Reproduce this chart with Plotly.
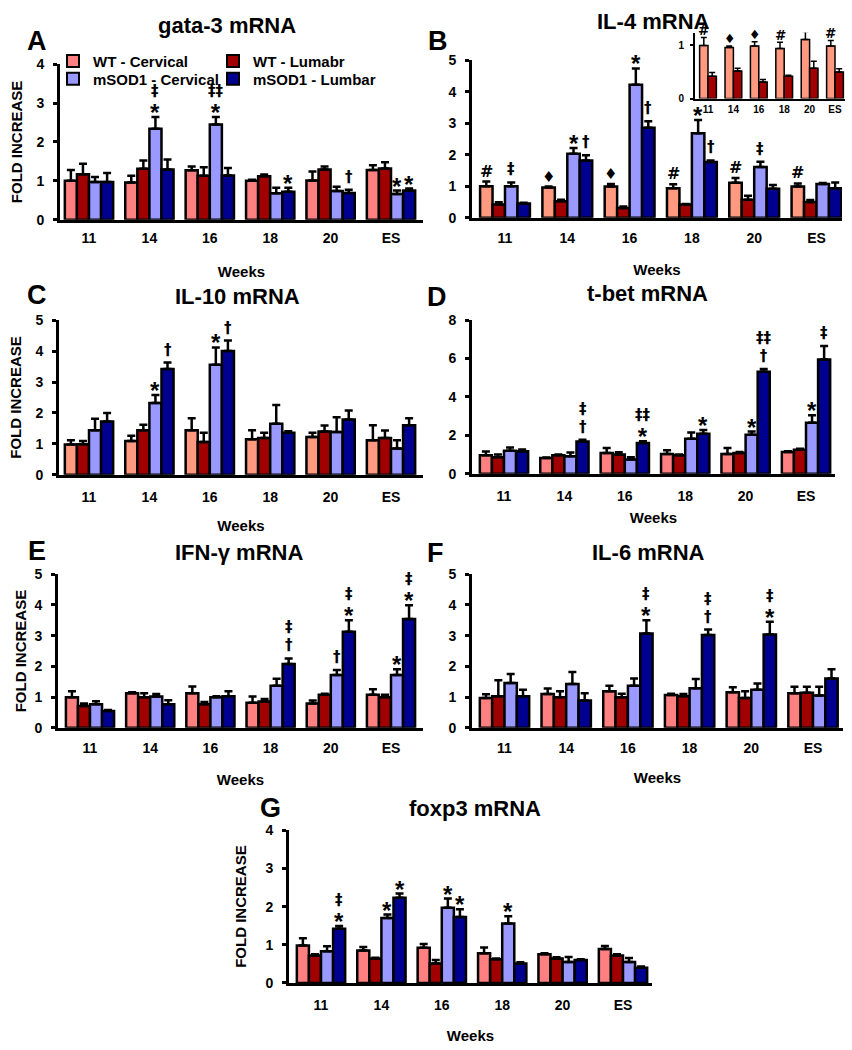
import plotly.graph_objects as go

# ---------------- data ----------------
weeks = ["11", "14", "16", "18", "20", "ES"]
series_names = ["WT - Cervical", "WT - Lumabr", "mSOD1 - Cervical", "mSOD1 - Lumbar"]

gata3_mean = [[1.00, 0.96, 1.27, 1.00, 1.01, 1.28],
              [1.17, 1.31, 1.13, 1.12, 1.29, 1.32],
              [0.97, 2.34, 2.45, 0.68, 0.74, 0.66],
              [0.97, 1.29, 1.14, 0.72, 0.69, 0.75]]
gata3_sem = [[0.28, 0.17, 0.10, 0.03, 0.23, 0.12],
             [0.27, 0.21, 0.22, 0.04, 0.08, 0.16],
             [0.13, 0.30, 0.19, 0.14, 0.11, 0.09],
             [0.23, 0.26, 0.19, 0.10, 0.08, 0.05]]

il4_mean = [[1.00, 0.96, 0.99, 0.94, 1.11, 0.99],
            [0.42, 0.52, 0.31, 0.42, 0.57, 0.50],
            [1.00, 2.03, 4.22, 2.68, 1.61, 1.07],
            [0.45, 1.82, 2.86, 1.77, 0.92, 0.94]]
il4_sem = [[0.15, 0.03, 0.08, 0.12, 0.15, 0.10],
           [0.07, 0.05, 0.05, 0.02, 0.13, 0.06],
           [0.12, 0.18, 0.52, 0.42, 0.17, 0.03],
           [0.03, 0.16, 0.20, 0.05, 0.12, 0.18]]

il10_mean = [[0.98, 1.09, 1.44, 1.15, 1.22, 1.12],
             [0.99, 1.44, 1.06, 1.19, 1.40, 1.19],
             [1.44, 2.32, 3.56, 1.65, 1.38, 0.85],
             [1.72, 3.42, 4.00, 1.36, 1.79, 1.60]]
il10_sem = [[0.14, 0.17, 0.39, 0.29, 0.14, 0.48],
            [0.10, 0.18, 0.30, 0.17, 0.19, 0.24],
            [0.37, 0.26, 0.56, 0.61, 0.48, 0.27],
            [0.28, 0.21, 0.34, 0.05, 0.29, 0.23]]

tbet_mean = [[0.96, 0.82, 1.08, 1.03, 1.03, 1.13],
             [0.86, 0.96, 1.00, 0.96, 1.08, 1.25],
             [1.20, 0.91, 0.74, 1.82, 2.03, 2.66],
             [1.18, 1.68, 1.60, 2.08, 5.32, 5.95]]
tbet_sem = [[0.20, 0.03, 0.26, 0.19, 0.31, 0.05],
            [0.14, 0.05, 0.12, 0.05, 0.05, 0.06],
            [0.17, 0.20, 0.12, 0.33, 0.17, 0.39],
            [0.09, 0.09, 0.09, 0.20, 0.14, 0.71]]

ifng_mean = [[1.00, 1.13, 1.13, 0.82, 0.79, 1.08],
             [0.71, 1.00, 0.77, 0.86, 1.08, 1.00],
             [0.77, 1.02, 1.00, 1.37, 1.72, 1.72],
             [0.55, 0.77, 1.03, 2.08, 3.13, 3.54]]
ifng_sem = [[0.19, 0.03, 0.22, 0.20, 0.10, 0.18],
            [0.08, 0.13, 0.07, 0.08, 0.03, 0.08],
            [0.10, 0.08, 0.03, 0.23, 0.16, 0.19],
            [0.03, 0.13, 0.16, 0.18, 0.37, 0.45]]

il6_mean = [[0.97, 1.10, 1.19, 1.07, 1.16, 1.13],
            [1.03, 1.00, 1.00, 1.03, 0.97, 1.14],
            [1.46, 1.43, 1.37, 1.29, 1.24, 1.05],
            [1.03, 0.89, 3.07, 3.02, 3.04, 1.61]]
il6_sem = [[0.12, 0.18, 0.18, 0.04, 0.16, 0.21],
           [0.52, 0.19, 0.11, 0.07, 0.22, 0.20],
           [0.29, 0.39, 0.24, 0.30, 0.20, 0.29],
           [0.21, 0.24, 0.43, 0.18, 0.41, 0.30]]

foxp3_mean = [[0.98, 0.85, 0.92, 0.78, 0.75, 0.89],
              [0.72, 0.64, 0.51, 0.62, 0.64, 0.72],
              [0.83, 1.70, 1.97, 1.56, 0.55, 0.55],
              [1.42, 2.23, 1.73, 0.51, 0.60, 0.40]]
foxp3_sem = [[0.19, 0.09, 0.10, 0.15, 0.03, 0.08],
             [0.03, 0.02, 0.09, 0.02, 0.03, 0.03],
             [0.13, 0.09, 0.24, 0.19, 0.13, 0.10],
             [0.07, 0.11, 0.20, 0.03, 0.02, 0.03]]

# significance marks: (week index, series index, marks from bottom to top)
sig_A = [(1, 2, ["*", "‡"]), (2, 2, ["*", "‡‡"]), (3, 3, ["*"]), (4, 3, ["†"]),
         (5, 2, ["*"]), (5, 3, ["*"])]
sig_B = [(0, 0, ["#"]), (0, 2, ["‡"]), (1, 0, ["♦"]), (1, 2, ["*"]), (1, 3, ["†"]),
         (2, 0, ["♦"]), (2, 2, ["*"]), (2, 3, ["†"]), (3, 0, ["#"]), (3, 2, ["*"]),
         (3, 3, ["†"]), (4, 0, ["#"]), (4, 2, ["‡"]), (5, 0, ["#"])]
sig_B_inset = [(0, 0, ["#"]), (1, 0, ["♦"]), (2, 0, ["♦"]), (3, 0, ["#"]),
               (4, 0, ["#"]), (5, 0, ["#"])]
sig_C = [(1, 2, ["*"]), (1, 3, ["†"]), (2, 2, ["*"]), (2, 3, ["†"])]
sig_D = [(1, 3, ["†", "‡"]), (2, 3, ["*", "‡‡"]), (3, 3, ["*"]), (4, 2, ["*"]),
         (4, 3, ["†", "‡‡"]), (5, 2, ["*"]), (5, 3, ["‡"])]
sig_E = [(3, 3, ["†", "‡"]), (4, 2, ["†"]), (4, 3, ["*", "‡"]), (5, 2, ["*"]),
         (5, 3, ["*", "‡"])]
sig_F = [(2, 3, ["*", "‡"]), (3, 3, ["†", "‡"]), (4, 3, ["*", "‡"])]
sig_G = [(0, 3, ["*", "‡"]), (1, 2, ["*"]), (1, 3, ["*"]), (2, 2, ["*"]),
         (2, 3, ["*"]), (3, 2, ["*"])]

# ---------------- styling / geometry ----------------
W, H = 852, 1050
FONT = "Liberation Sans, Arial, sans-serif"
SYMFONT = "DejaVu Sans, Liberation Sans, sans-serif"
pink = ["#FF8080", "#A00000", "#9999FF", "#000090"]
salmon = ["#FF9A80", "#A00000", "#9999FF", "#000090"]


def fx(p):
    return p / W


def fy(p):
    return 1 - p / H


panels = [
    dict(letter="A", title="gata-3 mRNA", mean=gata3_mean, sem=gata3_sem, sig=sig_A,
         xdom=(60, 423), ydom=(57, 215), c0=89, step=60.4, yr=4, dtick=1,
         ytitle=True, t_xy=(227, 18), l_xy=(37, 34), wst=22, tls=3, yst=11, colors=pink),
    dict(letter="B", title="IL-4 mRNA", mean=il4_mean, sem=il4_sem, sig=sig_B,
         xdom=(472, 842), ydom=(53, 213), c0=505, step=62.3, yr=5, dtick=1,
         ytitle=False, t_xy=(653, 14), l_xy=(438, 34), wst=20, tls=5, yst=8, colors=salmon),
    dict(letter="C", title="IL-10 mRNA", mean=il10_mean, sem=il10_sem, sig=sig_C,
         xdom=(59, 423), ydom=(317, 474), c0=89, step=60.4, yr=5, dtick=1,
         ytitle=True, t_xy=(238, 293), l_xy=(37, 291), wst=17, tls=7, yst=11, colors=salmon),
    dict(letter="D", title="t-bet mRNA", mean=tbet_mean, sem=tbet_sem, sig=sig_D,
         xdom=(472, 835), ydom=(317, 473), c0=504, step=60.4, yr=8, dtick=2,
         ytitle=False, t_xy=(647, 290), l_xy=(437, 293), wst=10, tls=7, yst=8, colors=pink),
    dict(letter="E", title="IFN-γ mRNA", mean=ifng_mean, sem=ifng_sem, sig=sig_E,
         xdom=(58, 423), ydom=(575, 731), c0=90, step=60.2, yr=5, dtick=1,
         ytitle=True, t_xy=(239, 553), l_xy=(37, 551), wst=20, tls=5, yst=5, colors=pink),
    dict(letter="F", title="IL-6 mRNA", mean=il6_mean, sem=il6_sem, sig=sig_F,
         xdom=(472, 843), ydom=(575, 731), c0=504.5, step=61.7, yr=5, dtick=1,
         ytitle=False, t_xy=(648, 553), l_xy=(435, 553), wst=18, tls=5, yst=8, colors=pink),
    dict(letter="G", title="foxp3 mRNA", mean=foxp3_mean, sem=foxp3_sem, sig=sig_G,
         xdom=(289, 652), ydom=(835, 990), c0=321, step=60.4, yr=4, dtick=1,
         ytitle=True, t_xy=(475, 813), l_xy=(270, 812), wst=19, tls=7, yst=16, colors=pink),
]

# glyph metrics: font size, font, y shift correction
glyph = {"*": (24, "Liberation Sans", -13), "†": (15, "DejaVu Sans", 0),
         "‡": (15, "DejaVu Sans", 0), "‡‡": (15, "DejaVu Sans", 0),
         "#": (16, "DejaVu Sans", -3), "♦": (15, "DejaVu Sans", -3)}

fig = go.Figure()
annotations = []
layout = {}
BW = 0.2


def add_sig(sig, mean, sem, xref, yref, centers, base=3, size_scale=1.0):
    for (gi, si, marks) in sig:
        bottom = marks[0]
        size0, fam0, sh0 = glyph[bottom]
        if len(marks) == 1:
            text = marks[0]
            fsize, fam = size0 * size_scale, fam0
        else:
            # stacked marks in one text: line spacing set by the base font size
            top = marks[1]
            size1, fam1, _ = glyph[top]
            text = (f"<span style='font-size:{size1}px;font-family:{fam1}'>{top}</span><br>"
                    f"<span style='font-size:{size0}px;font-family:{fam0}'>{bottom}</span>")
            fsize = 19.5 if bottom == "*" else 13.5
            fam = SYMFONT
        annotations.append(dict(
            x=gi + centers[si], y=mean[si][gi] + sem[si][gi], xref=xref, yref=yref,
            text=text, showarrow=False, yanchor="bottom", xanchor="center",
            yshift=base + sh0 * size_scale, borderpad=0,
            font=dict(size=fsize, color="black", family=fam, weight="bold")))


legend_ids = ["legend", "legend2", "legend3", "legend4"]
legend_pos = [(53, 54), (213, 54), (53, 72), (213, 72)]

for k, p in enumerate(panels, start=1):
    xs = "" if k == 1 else str(k)
    xref, yref = "x" + xs, "y" + xs
    x0 = -(p["c0"] - p["xdom"][0]) / p["step"]
    x1 = (p["xdom"][1] - p["c0"]) / p["step"]
    centers = [-0.4 + BW * s + BW / 2 for s in range(4)]
    for s in range(4):
        fig.add_trace(go.Bar(
            x=list(range(len(weeks))), y=p["mean"][s], name=series_names[s],
            xaxis=xref, yaxis=yref, offset=-0.4 + BW * s, width=BW,
            marker=dict(color=p["colors"][s], line=dict(color="black", width=2.5)),
            error_y=dict(type="data", array=p["sem"][s], arrayminus=[0] * 6,
                         symmetric=False, color="black", thickness=2.5, width=4),
            showlegend=(k == 1), legend=legend_ids[s],
        ))
    layout["xaxis" + xs] = dict(
        domain=[fx(p["xdom"][0]), fx(p["xdom"][1])], range=[x0, x1], anchor=yref,
        tickvals=list(range(len(weeks))), ticktext=weeks, showline=True,
        linecolor="black", linewidth=3, ticks="", showgrid=False, zeroline=False,
        ticklabelstandoff=p["tls"],
        tickfont=dict(size=14, family=FONT, color="black", weight="bold"),
        title=dict(text="Weeks", standoff=p["wst"],
                   font=dict(size=15, family=FONT, color="black", weight="bold")))
    layout["yaxis" + xs] = dict(
        domain=[fy(p["ydom"][1]), fy(p["ydom"][0])], range=[0, p["yr"]], anchor=xref,
        dtick=p["dtick"], tick0=0, showline=True, linecolor="black", linewidth=3,
        ticks="outside", ticklen=4, tickwidth=3, tickcolor="black", showgrid=False,
        zeroline=False, ticklabelstandoff=6,
        tickfont=dict(size=14, family=FONT, color="black", weight="bold"),
        title=dict(text="FOLD INCREASE" if p["ytitle"] else "", standoff=p["yst"],
                   font=dict(size=15, family=FONT, color="black", weight="bold")))
    annotations.append(dict(x=fx(p["t_xy"][0]), y=fy(p["t_xy"][1]), xref="paper",
                            yref="paper", text=p["title"], showarrow=False,
                            xanchor="center", yanchor="middle",
                            font=dict(size=22, family=FONT, color="black", weight="bold")))
    annotations.append(dict(x=fx(p["l_xy"][0]), y=fy(p["l_xy"][1]), xref="paper",
                            yref="paper", text=p["letter"], showarrow=False,
                            xanchor="center", yanchor="middle",
                            font=dict(size=27, family=FONT, color="black", weight="bold")))
    add_sig(p["sig"], p["mean"], p["sem"], xref, yref, centers)

# inset of panel B (WT groups only)
xref, yref = "x8", "y8"
IW = 0.33
icenters = [-IW / 2, IW / 2]
for s in range(2):
    fig.add_trace(go.Bar(
        x=list(range(len(weeks))), y=il4_mean[s], name=series_names[s],
        xaxis=xref, yaxis=yref, offset=-IW + IW * s, width=IW,
        marker=dict(color=salmon[s], line=dict(color="black", width=1.5)),
        error_y=dict(type="data", array=il4_sem[s], arrayminus=[0] * 6, symmetric=False,
                     color="black", thickness=1.5, width=3),
        showlegend=False))
c0, step = 708, 25.4
layout["xaxis8"] = dict(
    domain=[fx(695), fx(845)], range=[-(c0 - 695) / step, (845 - c0) / step], anchor=yref,
    tickvals=list(range(len(weeks))), ticktext=weeks, showline=True, linecolor="black",
    linewidth=2, ticks="", showgrid=False, zeroline=False,
    tickfont=dict(size=10, family=FONT, color="black", weight="bold"))
layout["yaxis8"] = dict(
    domain=[fy(92), fy(25)], range=[0, 1.24], anchor=xref, tickvals=[0, 1],
    showline=True, linecolor="black", linewidth=2, ticks="outside", ticklen=3,
    tickwidth=2, tickcolor="black", showgrid=False, zeroline=False, ticklabelstandoff=4,
    tickfont=dict(size=10, family=FONT, color="black", weight="bold"))
add_sig(sig_B_inset, il4_mean, il4_sem, xref, yref, icenters + [0, 0], base=1,
        size_scale=0.85)

for lid, (lx, ly) in zip(legend_ids, legend_pos):
    layout[lid] = dict(x=fx(lx), y=fy(ly), xanchor="left", yanchor="middle",
                       font=dict(size=15, family=FONT, color="black", weight="bold"),
                       bgcolor="rgba(0,0,0,0)", orientation="v", itemsizing="constant")

fig.update_layout(
    width=W, height=H, margin=dict(l=0, r=0, t=0, b=0),
    paper_bgcolor="white", plot_bgcolor="white", barmode="overlay",
    font=dict(family=FONT, color="black", weight="bold"),
    annotations=annotations, showlegend=True, **layout)

fig.write_html("out.html", config={"displayModeBar": False},
               post_script="document.body.style.margin='0px';"
                           "document.body.style.overflow='hidden';")
